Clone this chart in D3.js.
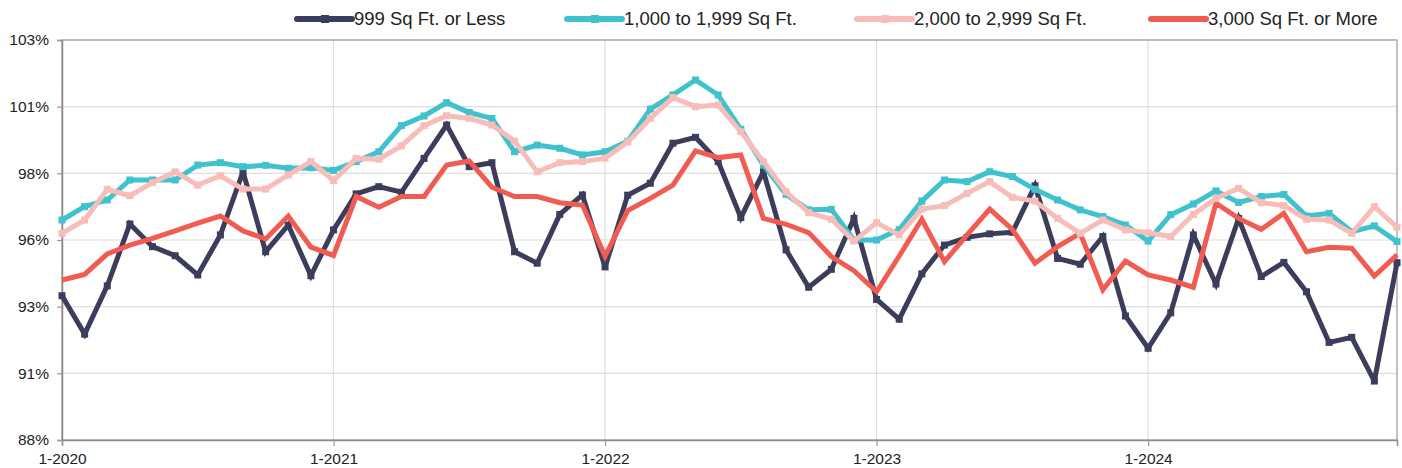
<!DOCTYPE html>
<html>
<head>
<meta charset="utf-8">
<script src="https://cdn.jsdelivr.net/npm/d3@7"></script>
<style>
  html, body { margin: 0; padding: 0; background: #fff; }
  svg { display: block; font-family: "Liberation Sans", Arial, Helvetica, sans-serif; }
</style>
</head>
<body>
<svg id="chart" width="1402" height="468"></svg>
<script>
// ---- data ----
const months = d3.range(60).map(i => `${(i % 12) + 1}-${2020 + Math.floor(i / 12)}`);
const seriesNames = ["999 Sq Ft. or Less", "1,000 to 1,999 Sq Ft.", "2,000 to 2,999 Sq Ft.", "3,000 Sq Ft. or More"];
const sqft999 = [93.41, 91.97, 93.78, 96.1, 95.25, 94.91, 94.19, 95.69, 98.06, 95.06, 96.06, 94.16,
  95.88, 97.23, 97.5, 97.29, 98.56, 99.81, 98.25, 98.4, 95.06, 94.63, 96.46, 97.19,
  94.49, 97.18, 97.63, 99.13, 99.35, 98.44, 96.34, 98.06, 95.13, 93.73, 94.4, 96.31,
  93.27, 92.53, 94.23, 95.31, 95.6, 95.73, 95.79, 97.53, 94.81, 94.59, 95.63, 92.65,
  91.44, 92.77, 95.69, 93.85, 96.31, 94.13, 94.66, 93.56, 91.66, 91.85, 90.21, 94.65];
const sqft1000 = [96.25, 96.75, 97.0, 97.75, 97.75, 97.75, 98.31, 98.4, 98.25, 98.3, 98.19, 98.21,
  98.11, 98.44, 98.81, 99.79, 100.15, 100.65, 100.28, 100.06, 98.81, 99.06, 98.94, 98.69,
  98.81, 99.2, 100.41, 100.94, 101.5, 100.94, 99.65, 98.31, 97.21, 96.63, 96.65, 95.5,
  95.5, 95.89, 96.96, 97.75, 97.69, 98.06, 97.88, 97.4, 97.0, 96.63, 96.38, 96.06,
  95.46, 96.45, 96.85, 97.34, 96.91, 97.13, 97.21, 96.4, 96.5, 95.81, 96.03, 95.44];
const sqft2000 = [95.75, 96.25, 97.4, 97.16, 97.65, 98.06, 97.56, 97.91, 97.41, 97.41, 97.94, 98.44,
  97.73, 98.56, 98.53, 99.03, 99.79, 100.16, 100.06, 99.81, 99.21, 98.06, 98.4, 98.44,
  98.57, 99.17, 100.06, 100.84, 100.5, 100.56, 99.56, 98.44, 97.31, 96.53, 96.28, 95.46,
  96.15, 95.69, 96.66, 96.79, 97.25, 97.69, 97.1, 96.96, 96.31, 95.75, 96.25, 95.88,
  95.77, 95.63, 96.46, 97.06, 97.44, 96.9, 96.79, 96.28, 96.25, 95.75, 96.75, 95.98];
const sqft3000 = [94.0, 94.21, 94.98, 95.31, 95.56, 95.84, 96.13, 96.4, 95.84, 95.54, 96.4, 95.23,
  94.92, 97.13, 96.73, 97.13, 97.13, 98.31, 98.46, 97.48, 97.13, 97.13, 96.9, 96.81,
  94.89, 96.6, 97.06, 97.56, 98.84, 98.59, 98.69, 96.31, 96.09, 95.78, 94.88, 94.35,
  93.56, 94.9, 96.28, 94.69, 95.69, 96.66, 95.9, 94.63, 95.25, 95.75, 93.63, 94.71,
  94.19, 94.0, 93.73, 96.88, 96.31, 95.9, 96.5, 95.06, 95.23, 95.19, 94.15, 94.94];
const yTicks = [88, 90.5, 93, 95.5, 98, 100.5, 103];
const xTickIdx = [0, 12, 24, 36, 48];
const colors = ["#3c3c5c", "#3fc2cd", "#f8bdb8", "#f15b51"];

// ---- layout ----
const svg = d3.select("#chart");
const L = 62, R = 1397, T = 40, B = 440;
const x = d3.scaleLinear().domain([0, months.length - 1]).range([L, R]);
const y = d3.scaleLinear().domain([88, 103]).range([B, T]);

// gridlines
svg.append("g").selectAll("line.h").data(yTicks.slice(1)).join("line")
  .attr("x1", L).attr("x2", R).attr("y1", d => y(d)).attr("y2", d => y(d))
  .attr("stroke", "#dedede").attr("stroke-width", 1.2);
svg.append("g").selectAll("line.v").data(xTickIdx.slice(1)).join("line")
  .attr("x1", d => x(d)).attr("x2", d => x(d)).attr("y1", T).attr("y2", B)
  .attr("stroke", "#dedede").attr("stroke-width", 1.2);

// frame
svg.append("rect").attr("x", L).attr("y", T).attr("width", R - L).attr("height", B - T)
  .attr("fill", "none").attr("stroke", "#9a9a9a").attr("stroke-width", 1.2);

// axes
const yAxis = d3.axisLeft(y).tickValues(yTicks).tickFormat(d => Math.round(d) + "%").tickSize(5).tickPadding(8);
const gy = svg.append("g").attr("transform", `translate(${L},0)`).call(yAxis);
const xAxis = d3.axisBottom(x).tickValues(xTickIdx).tickFormat(i => months[i]).tickSize(6).tickPadding(7);
const gx = svg.append("g").attr("transform", `translate(0,${B})`).call(xAxis);
[gy, gx].forEach(g => {
  g.select(".domain").attr("stroke", "#8a8a8a").attr("stroke-width", 1.5);
  g.selectAll(".tick line").attr("stroke", "#9a9a9a").attr("stroke-width", 1.2);
  g.selectAll("text").attr("fill", "#222").style("font-size", "15.5px")
    .style("font-family", "'Liberation Sans', Arial, sans-serif");
});

// lines
const data = [sqft999, sqft1000, sqft2000, sqft3000];
const drawOrder = [0, 3, 1, 2];
const markers = [true, true, true, false];
const line = d3.line().x((d, i) => x(i)).y(d => y(d));
drawOrder.forEach(k => {
  const g = svg.append("g");
  g.append("path").datum(data[k]).attr("d", line).attr("fill", "none")
    .attr("stroke", colors[k]).attr("stroke-width", 5).attr("stroke-linejoin", "miter").attr("stroke-miterlimit", 3);
  if (markers[k]) {
    g.selectAll("rect").data(data[k]).join("rect")
      .attr("x", (d, i) => x(i) - 3.5).attr("y", d => y(d) - 3.5)
      .attr("width", 7).attr("height", 7).attr("fill", colors[k]);
  }
});

// legend
const legendPos = [297, 567, 857, 1151];
seriesNames.forEach((name, k) => {
  const g = svg.append("g").attr("transform", `translate(${legendPos[k]},19)`);
  g.append("line").attr("x1", 0).attr("x2", 55).attr("y1", 0).attr("y2", 0)
    .attr("stroke", colors[k]).attr("stroke-width", 6).attr("stroke-linecap", "round");
  if (markers[k]) {
    g.append("rect").attr("x", 24).attr("y", -4).attr("width", 8).attr("height", 8).attr("fill", colors[k]);
  }
  g.append("text").attr("x", 57).attr("y", 0).attr("dy", "0.35em")
    .attr("fill", "#222").style("font-size", "18.5px").text(name);
});
</script>
</body>
</html>
